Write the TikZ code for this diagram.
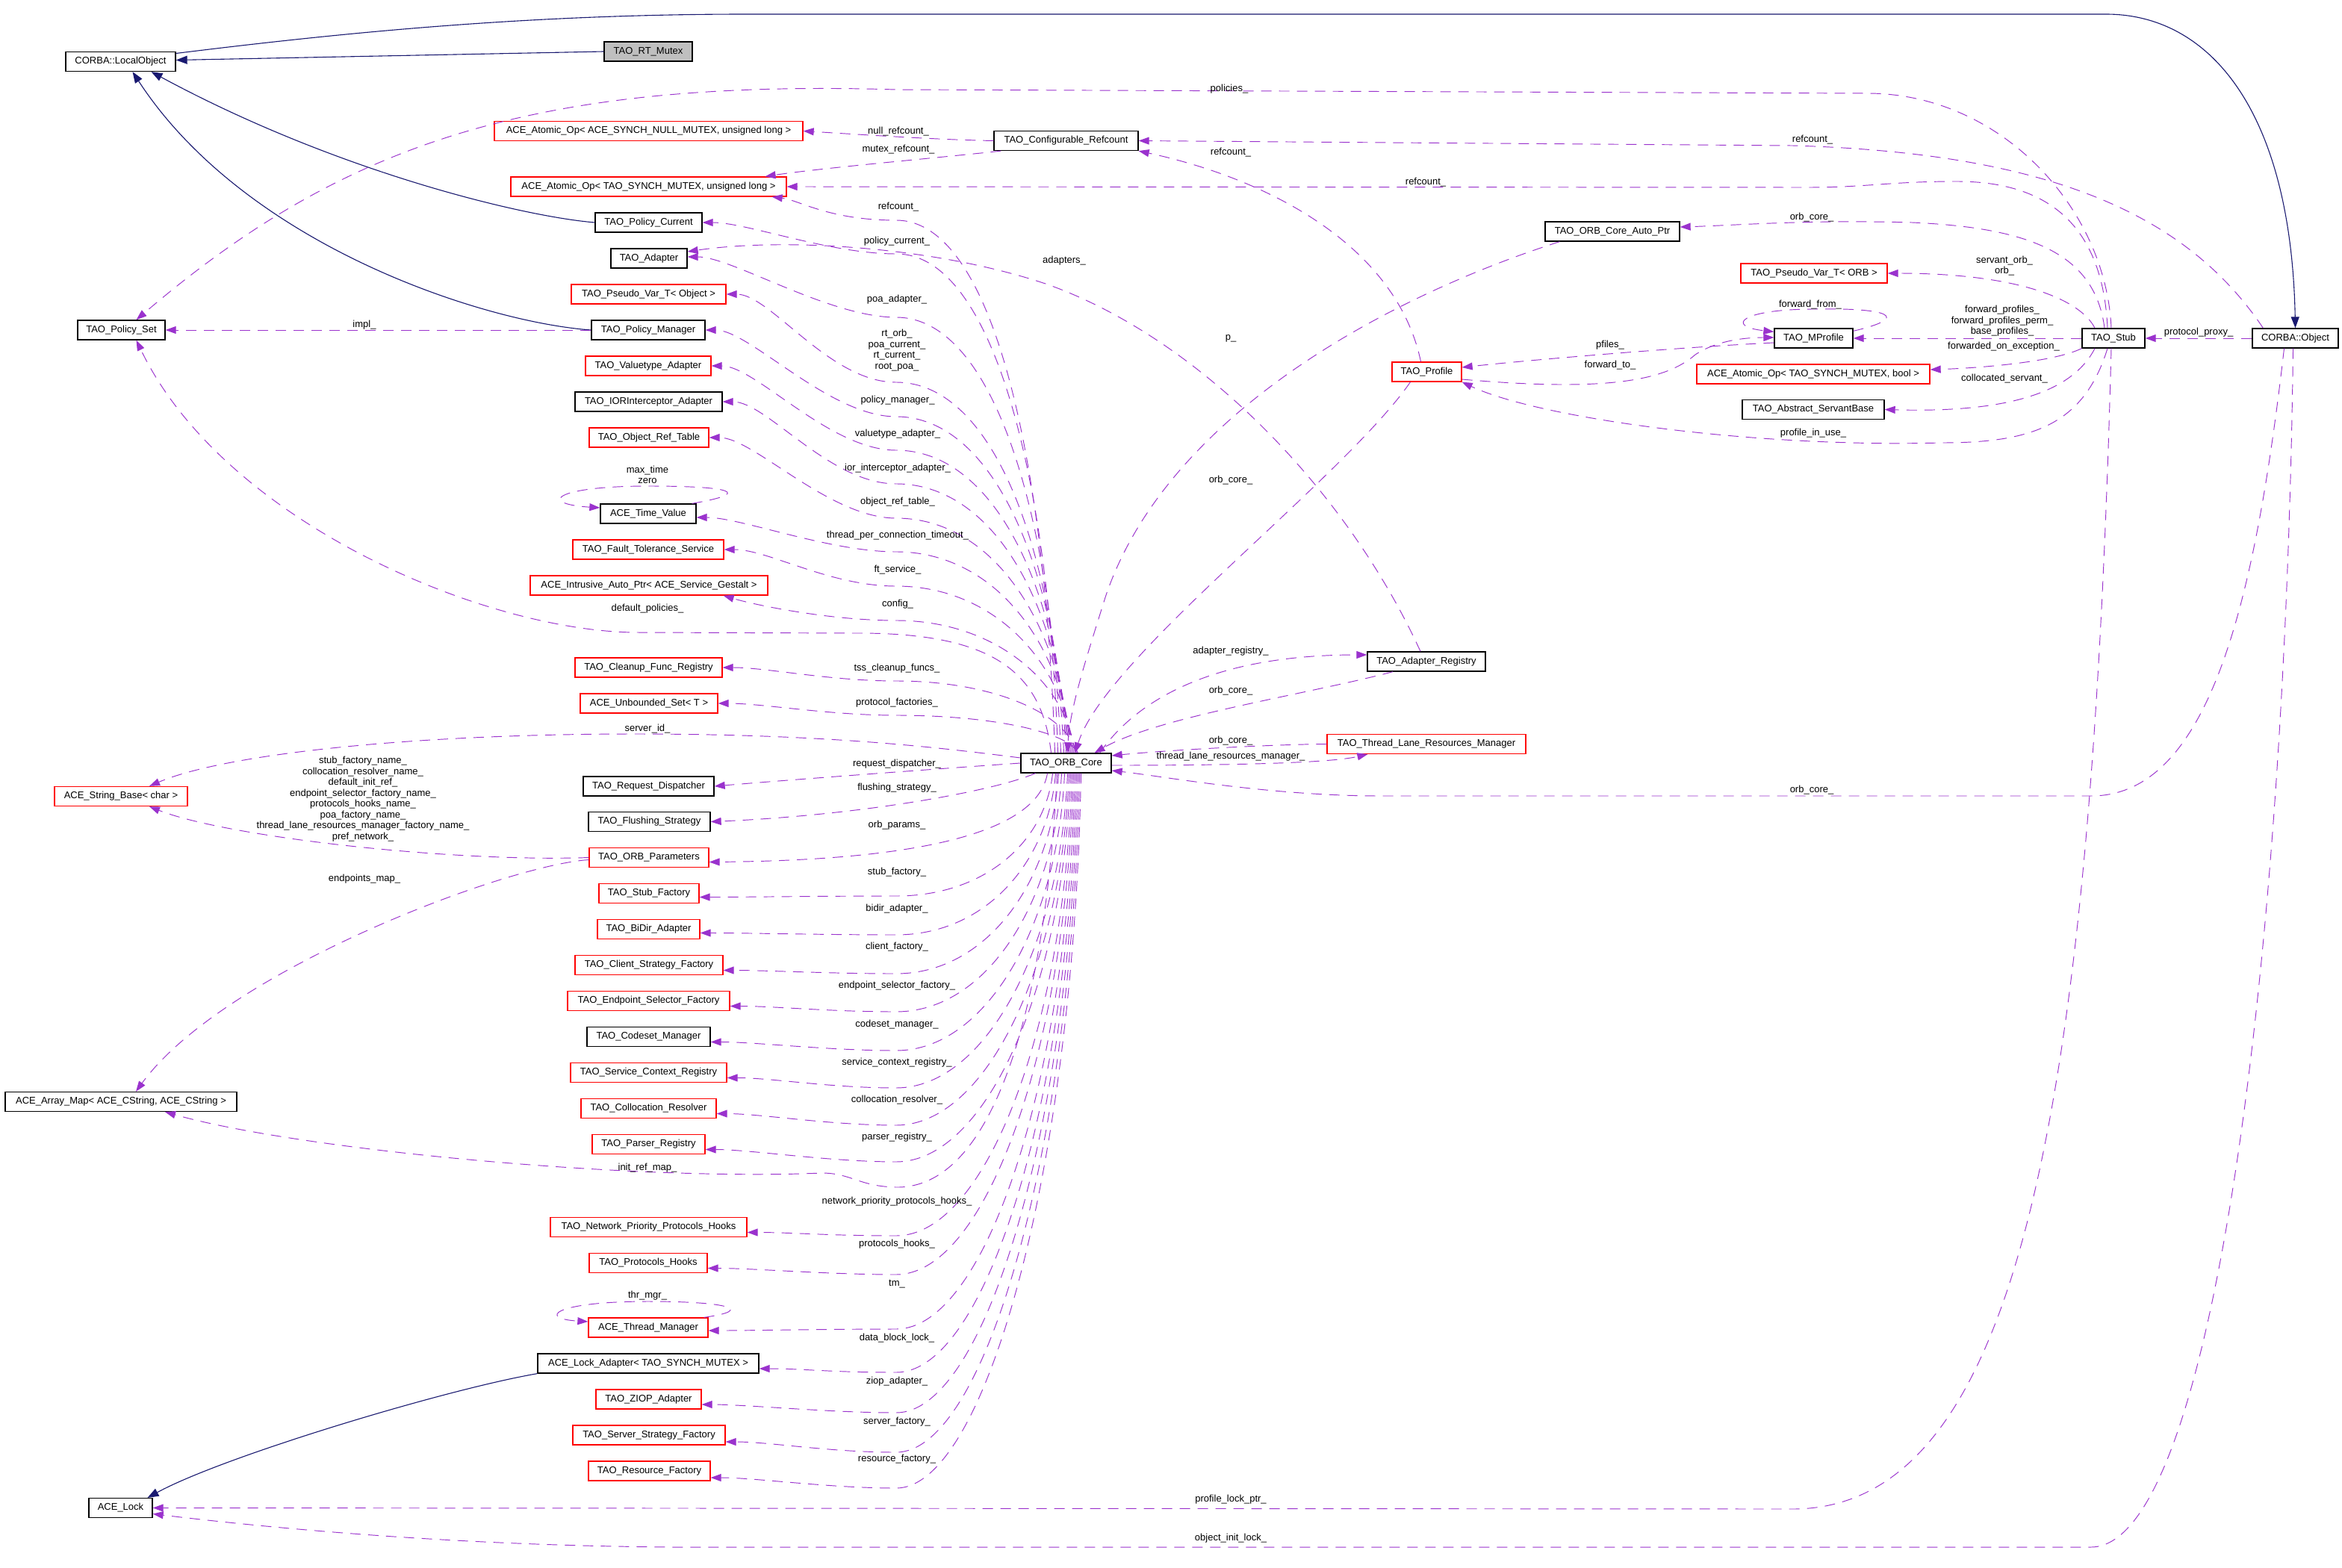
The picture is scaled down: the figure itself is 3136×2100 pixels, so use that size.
\documentclass[tikz,border=0pt]{standalone}
\usepackage{fontspec}
\setmainfont{Liberation Sans}
\usetikzlibrary{arrows.meta,calc}
\definecolor{depcol}{RGB}{154,50,205}
\definecolor{inhcol}{RGB}{25,25,112}
\definecolor{grey75}{RGB}{191,191,191}
\begin{document}
\begin{tikzpicture}[x=1pt,y=-1pt,
  cls/.style={draw=black,line width=1.3pt,fill=white,minimum height=26pt,inner xsep=3pt,inner ysep=0pt,font=\fontsize{13}{14.5}\selectfont},
  rcls/.style={cls,draw=red},
  gcls/.style={cls,fill=grey75},
  lbl/.style={font=\fontsize{13}{14.5}\selectfont,inner sep=0pt,align=center},
  dep/.style={draw=depcol,line width=0.95pt,dash pattern=on 14pt off 10pt,-{Triangle[length=14pt,width=10pt]}},
  inh/.style={draw=inhcol,line width=1.1pt,-{Triangle[length=15pt,width=11pt]}}]
\path[use as bounding box] (0,0) rectangle (3136,2100);
\fill[white] (0,0) rectangle (3136,2100);

% ---------------- nodes ----------------
\node[cls,minimum width=147pt] (lobj) at (161.5,82.5) {CORBA::LocalObject};
\node[gcls,minimum width=118pt] (rtm) at (868,69) {TAO\_RT\_Mutex};
\node[rcls,minimum width=413pt] (aonull) at (868.5,175.5) {ACE\_Atomic\_Op< ACE\_SYNCH\_NULL\_MUTEX, unsigned long >};
\node[rcls,minimum width=369pt] (aoul) at (868.5,250) {ACE\_Atomic\_Op< TAO\_SYNCH\_MUTEX, unsigned long >};
\node[cls,minimum width=143pt] (pcur) at (868.5,298) {TAO\_Policy\_Current};
\node[cls,minimum width=102pt] (adapter) at (869,346) {TAO\_Adapter};
\node[rcls,minimum width=207pt] (pvobj) at (868.5,394) {TAO\_Pseudo\_Var\_T< Object >};
\node[cls,minimum width=117pt] (pset) at (162.5,442) {TAO\_Policy\_Set};
\node[cls,minimum width=152pt] (pman) at (868,442) {TAO\_Policy\_Manager};
\node[rcls,minimum width=168pt] (vta) at (868,490) {TAO\_Valuetype\_Adapter};
\node[cls,minimum width=197pt] (iora) at (868.5,538) {TAO\_IORInterceptor\_Adapter};
\node[rcls,minimum width=160pt] (ort) at (869,586) {TAO\_Object\_Ref\_Table};
\node[cls,minimum width=128pt] (tv) at (868,688) {ACE\_Time\_Value};
\node[rcls,minimum width=202pt] (fts) at (868,736) {TAO\_Fault\_Tolerance\_Service};
\node[rcls,minimum width=318pt] (iap) at (869,784) {ACE\_Intrusive\_Auto\_Ptr< ACE\_Service\_Gestalt >};
\node[rcls,minimum width=197pt] (cfr) at (868.5,894) {TAO\_Cleanup\_Func\_Registry};
\node[rcls,minimum width=184pt] (us) at (869,942) {ACE\_Unbounded\_Set< T >};
\node[rcls,minimum width=178pt] (sb) at (162,1066.5) {ACE\_String\_Base< char >};
\node[cls,minimum width=175pt] (rd) at (868.5,1053) {TAO\_Request\_Dispatcher};
\node[cls,minimum width=163pt] (fs) at (869.5,1100.5) {TAO\_Flushing\_Strategy};
\node[rcls,minimum width=160pt] (op) at (869,1148.5) {TAO\_ORB\_Parameters};
\node[rcls,minimum width=134pt] (sf) at (869,1196.5) {TAO\_Stub\_Factory};
\node[rcls,minimum width=137pt] (bidir) at (868.5,1244.5) {TAO\_BiDir\_Adapter};
\node[rcls,minimum width=198pt] (csf) at (869,1292.5) {TAO\_Client\_Strategy\_Factory};
\node[rcls,minimum width=217pt] (esf) at (868.5,1340.5) {TAO\_Endpoint\_Selector\_Factory};
\node[cls,minimum width=165pt] (cm) at (868.5,1388.5) {TAO\_Codeset\_Manager};
\node[rcls,minimum width=209pt] (scr) at (868.5,1436.5) {TAO\_Service\_Context\_Registry};
\node[rcls,minimum width=181pt] (cr) at (868.5,1484.5) {TAO\_Collocation\_Resolver};
\node[rcls,minimum width=151pt] (pr) at (868.5,1532.5) {TAO\_Parser\_Registry};
\node[cls,minimum width=310pt] (am) at (162,1475.5) {ACE\_Array\_Map< ACE\_CString, ACE\_CString >};
\node[rcls,minimum width=263pt] (nph) at (868.5,1643.5) {TAO\_Network\_Priority\_Protocols\_Hooks};
\node[rcls,minimum width=158pt] (ph) at (868,1691.5) {TAO\_Protocols\_Hooks};
\node[rcls,minimum width=160pt] (tm) at (868,1778) {ACE\_Thread\_Manager};
\node[cls,minimum width=296pt] (la) at (868,1826) {ACE\_Lock\_Adapter< TAO\_SYNCH\_MUTEX >};
\node[rcls,minimum width=141pt] (ziop) at (868.5,1874) {TAO\_ZIOP\_Adapter};
\node[rcls,minimum width=204pt] (ssf) at (869,1922) {TAO\_Server\_Strategy\_Factory};
\node[rcls,minimum width=163pt] (rf) at (869.5,1970) {TAO\_Resource\_Factory};
\node[cls,minimum width=85pt] (lock) at (161.5,2019.5) {ACE\_Lock};
\node[cls,minimum width=193pt] (crc) at (1427.5,188.5) {TAO\_Configurable\_Refcount};
\node[cls,minimum width=180pt] (oap) at (2159,310) {TAO\_ORB\_Core\_Auto\_Ptr};
\node[rcls,minimum width=196pt] (pvorb) at (2429,366) {TAO\_Pseudo\_Var\_T< ORB >};
\node[cls,minimum width=105pt] (mp) at (2428.5,453) {TAO\_MProfile};
\node[cls,minimum width=84pt] (stub) at (2830,453) {TAO\_Stub};
\node[cls,minimum width=115pt] (obj) at (3073.5,453) {CORBA::Object};
\node[rcls,minimum width=312pt] (aobool) at (2428,501) {ACE\_Atomic\_Op< TAO\_SYNCH\_MUTEX, bool >};
\node[cls,minimum width=190pt] (asb) at (2428,548.5) {TAO\_Abstract\_ServantBase};
\node[rcls,minimum width=93pt] (prof) at (1910.5,498) {TAO\_Profile};
\node[cls,minimum width=121pt] (orb) at (1427.5,1022) {TAO\_ORB\_Core};
\node[cls,minimum width=158pt] (areg) at (1910,886) {TAO\_Adapter\_Registry};
\node[rcls,minimum width=266pt] (tlrm) at (1910,996.5) {TAO\_Thread\_Lane\_Resources\_Manager};

% ---------------- inheritance ----------------
\draw[inh] (rtm.west) -- ($(lobj.east)+(0,-2)$);
\draw[inh] ($(lobj.east)+(0,-11)$) .. controls (450,45) and (700,19) .. (1000,19) -- (2820,19) .. controls (2960,19) and (3068,150) .. (obj.north);
\draw[inh] (pcur.west) .. controls (700,290) and (450,230) .. ($(lobj.south)+(41,0)$);
\draw[inh] (pman.west) .. controls (650,432) and (330,330) .. ($(lobj.south)+(16,0)$);
\draw[inh] (la.south west) .. controls (600,1860) and (300,1950) .. ($(lock.north)+(36,0)$);

% ---------------- usage: refcount cluster ----------------
\draw[dep] (crc.west) .. controls (1250,187) and (1150,180) .. (aonull.east);
\draw[dep] ($(crc.south west)+(10,0)$) .. controls (1250,212) and (1100,225) .. ($(aoul.north east)+(-29,0)$);
\draw[dep] ($(obj.north west)+(15,0)$) .. controls (2930,290) and (2750,205) .. (2400,195) -- (crc.east);
\draw[dep] ($(stub.north)+(-8,0)$) .. controls (2815,290) and (2730,243) .. (2620,243) .. controls (2530,243) and (2500,251) .. (2420,251) -- (aoul.east);
\draw[dep] ($(stub.north)+(-3,0)$) .. controls (2820,280) and (2680,125) .. (2500,125) -- (1200,120) .. controls (700,105) and (450,200) .. ($(pset.north)+(20,0)$);
\draw[dep] ($(prof.north)+(-8,0)$) .. controls (1870,330) and (1700,240) .. (crc.south east);

% ---------------- TAO_Stub cluster ----------------
\draw[dep] ($(stub.north)+(-12,0)$) .. controls (2805,340) and (2720,305) .. (2560,298) .. controls (2420,294) and (2320,302) .. ($(oap.east)+(0,-6)$);
\draw[dep] ($(stub.north)+(-25,0)$) .. controls (2785,400) and (2700,366) .. (pvorb.east);
\draw[dep] (stub.west) -- (mp.east);
\draw[dep] (obj.west) -- (stub.east);
\draw[dep] (stub.south west) .. controls (2750,485) and (2650,493) .. ($(aobool.east)+(0,-6)$);
\draw[dep] ($(stub.south)+(-25,0)$) .. controls (2775,525) and (2690,553) .. (asb.east);
\draw[dep] ($(stub.south)+(-8,0)$) .. controls (2790,570) and (2720,593) .. (2600,593) .. controls (2350,600) and (2060,560) .. (prof.south east);
\draw[dep] ($(mp.north east)+(0,4)$) .. controls (2560,425) and (2530,412) .. (2430,414) .. controls (2330,414) and (2310,437) .. ($(mp.north west)+(0,5)$);
\draw[dep] ($(prof.east)+(0,10)$) .. controls (2150,525) and (2230,510) .. (2270,475) .. controls (2300,455) and (2340,452) .. ($(mp.west)+(0,-1)$);
\draw[dep] ($(mp.west)+(0,6)$) .. controls (2250,465) and (2050,482) .. ($(prof.east)+(0,-6)$);
\draw[dep] ($(stub.south)+(-3,0)$) .. controls (2800,1500) and (2700,2021) .. (2400,2021) -- (lock.east);
\draw[dep] ($(obj.south)+(-3,0)$) .. controls (3060,1300) and (2960,2072) .. (2800,2072) -- (900,2072) .. controls (600,2070) and (350,2045) .. ($(lock.east)+(0,8)$);
\draw[dep] ($(obj.south)+(-15,0)$) .. controls (3020,800) and (2960,1066) .. (2800,1066) -- (1850,1066) .. controls (1700,1066) and (1560,1040) .. ($(orb.east)+(0,10)$);

% ---------------- ORB core neighbours ----------------
\draw[dep] ($(prof.south)+(-22,0)$) .. controls (1800,640) and (1480,880) .. ($(orb.north)+(12,0)$);
\draw[dep] ($(oap.south west)+(20,0)$) .. controls (1850,400) and (1560,560) .. (1480,800) .. controls (1455,880) and (1432,950) .. ($(orb.north)+(2,0)$);
\draw[dep] ($(areg.north)+(-8,0)$) .. controls (1800,650) and (1600,450) .. (1400,380) .. controls (1250,330) and (1050,318) .. ($(adapter.east)+(0,-9)$);
\draw[dep] ($(orb.north)+(45,0)$) .. controls (1520,940) and (1620,877) .. ($(areg.west)+(0,-9)$);
\draw[dep] ($(areg.south)+(-45,0)$) .. controls (1750,930) and (1550,960) .. ($(orb.north)+(38,0)$);
\draw[dep] (tlrm.west) .. controls (1700,997) and (1560,1005) .. ($(orb.east)+(0,-10)$);
\draw[dep] ($(orb.east)+(0,3)$) .. controls (1650,1025) and (1780,1022) .. ($(tlrm.south west)+(55,0)$);

% ---------------- left column misc ----------------
\draw[dep] (pman.west) -- (pset.east);
\draw[dep] (op.west) .. controls (600,1155) and (300,1120) .. ($(sb.south)+(38,0)$);
\draw[dep] ($(op.west)+(0,3)$) .. controls (680,1158) and (300,1300) .. ($(am.north)+(20,0)$);
\draw[dep] ($(tv.north east)+(-6,0)$) .. controls (1010,660) and (980,651) .. (868,651) .. controls (740,651) and (720,675) .. ($(tv.west)+(0,-8)$);
\draw[dep] ($(tm.north east)+(-6,0)$) .. controls (1010,1755) and (980,1743) .. (868,1743) .. controls (740,1743) and (720,1766) .. ($(tm.west)+(0,-8)$);

% ---------------- ORB core fan (upper) ----------------
\draw[dep] ($(orb.north)+(-15,0)$) .. controls (1400,616) and (1330,295) .. (1200,295) .. controls (1110,295) and (1070,268) .. ($(aoul.south east)+(-20,0)$);
\draw[dep] ($(orb.north)+(-11,0)$) .. controls (1405,641) and (1330,340) .. (1200,340) .. controls (1110,340) and (1000,298) .. (pcur.east);
\draw[dep] ($(orb.north)+(-7,0)$) .. controls (1408,688) and (1330,425) .. (1200,425) .. controls (1110,425) and (980,344) .. ($(adapter.east)+(0,-2)$);
\draw[dep] ($(orb.north)+(-3,0)$) .. controls (1412,736) and (1330,512) .. (1200,512) .. controls (1110,512) and (1032,394) .. (pvobj.east);
\draw[dep] ($(orb.north)+(0,0)$) .. controls (1415,761) and (1330,558) .. (1200,558) .. controls (1110,558) and (1004,442) .. (pman.east);
\draw[dep] ($(orb.north)+(2,0)$) .. controls (1417,786) and (1330,603) .. (1200,603) .. controls (1110,603) and (1012,490) .. (vta.east);
\draw[dep] ($(orb.north)+(4,0)$) .. controls (1419,810) and (1330,648) .. (1200,648) .. controls (1110,648) and (1027,538) .. (iora.east);
\draw[dep] ($(orb.north)+(6,0)$) .. controls (1421,836) and (1330,694) .. (1200,694) .. controls (1110,694) and (1009,586) .. (ort.east);
\draw[dep] ($(orb.north)+(8,0)$) .. controls (1423,860) and (1330,739) .. (1200,739) .. controls (1110,739) and (992,693) .. ($(tv.east)+(0,5)$);
\draw[dep] ($(orb.north)+(10,0)$) .. controls (1425,886) and (1330,785) .. (1200,785) .. controls (1110,785) and (1029,736) .. (fts.east);
\draw[dep] ($(orb.north)+(12,0)$) .. controls (1427,911) and (1330,831) .. (1200,831) .. controls (1110,831) and (1010,810) .. ($(iap.south east)+(-60,0)$);
\draw[dep] ($(orb.north)+(-20,0)$) .. controls (1395,900) and (1330,848) .. (1150,848) -- (850,847) .. controls (650,845) and (300,700) .. ($(pset.south)+(20,0)$);
\draw[dep] ($(orb.north)+(14,0)$) .. controls (1429,956) and (1330,912) .. (1200,912) .. controls (1110,912) and (1027,894) .. (cfr.east);
\draw[dep] ($(orb.north)+(16,0)$) .. controls (1431,981) and (1330,958) .. (1200,958) .. controls (1110,958) and (1021,942) .. (us.east);
\draw[dep] ($(orb.west)+(0,-7)$) .. controls (1250,1000) and (1100,983) .. (850,983) .. controls (550,983) and (300,1010) .. ($(sb.north)+(38,0)$);

% ---------------- ORB core fan (lower) ----------------
\draw[dep] (orb.west) .. controls (1250,1030) and (1050,1045) .. (rd.east);
\draw[dep] ($(orb.south west)+(20,0)$) .. controls (1330,1060) and (1150,1092) .. (fs.east);
\draw[dep] ($(orb.south)+(-25,0)$) .. controls (1390,1110) and (1250,1152) .. ($(op.east)+(0,6)$);
\draw[dep] ($(orb.south)+(-18,0)$) .. controls (1400,1126) and (1320,1200) .. (1200,1200) .. controls (1110,1200) and (996,1201.5) .. ($(sf.east)+(0,5)$);
\draw[dep] ($(orb.south)+(-14,0)$) .. controls (1404,1154) and (1320,1252) .. (1200,1252) .. controls (1110,1252) and (997,1249.5) .. ($(bidir.east)+(0,5)$);
\draw[dep] ($(orb.south)+(-10,0)$) .. controls (1408,1183) and (1320,1304) .. (1200,1304) .. controls (1110,1304) and (1028,1299.5) .. ($(csf.east)+(0,7)$);
\draw[dep] ($(orb.south)+(-6,0)$) .. controls (1412,1211) and (1320,1355) .. (1200,1355) .. controls (1110,1355) and (1037,1347.5) .. ($(esf.east)+(0,7)$);
\draw[dep] ($(orb.south)+(-2,0)$) .. controls (1416,1240) and (1320,1407) .. (1200,1407) .. controls (1110,1407) and (1011,1395.5) .. ($(cm.east)+(0,7)$);
\draw[dep] ($(orb.south)+(2,0)$) .. controls (1420,1267) and (1320,1457) .. (1200,1457) .. controls (1110,1457) and (1033,1443.5) .. ($(scr.east)+(0,7)$);
\draw[dep] ($(orb.south)+(4,0)$) .. controls (1422,1295) and (1320,1507) .. (1200,1507) .. controls (1110,1507) and (1019,1491.5) .. ($(cr.east)+(0,7)$);
\draw[dep] ($(orb.south)+(6,0)$) .. controls (1424,1322) and (1320,1556) .. (1200,1556) .. controls (1110,1556) and (1004,1539.5) .. ($(pr.east)+(0,7)$);
\draw[dep] ($(orb.south)+(-12,0)$) .. controls (1400,1350) and (1330,1592) .. (1200,1590) .. controls (1150,1589) and (1140,1571) .. (1100,1571) .. controls (850,1582) and (400,1540) .. ($(am.south)+(59,0)$);
\draw[dep] ($(orb.south)+(8,0)$) .. controls (1426,1376) and (1320,1655) .. (1200,1655) .. controls (1110,1655) and (1060,1650.5) .. ($(nph.east)+(0,7)$);
\draw[dep] ($(orb.south)+(10,0)$) .. controls (1428,1405) and (1320,1707) .. (1200,1707) .. controls (1110,1707) and (1007,1698.5) .. ($(ph.east)+(0,7)$);
\draw[dep] ($(orb.south)+(12,0)$) .. controls (1430,1445) and (1320,1780) .. (1200,1780) .. controls (1110,1780) and (1008,1782) .. ($(tm.east)+(0,4)$);
\draw[dep] ($(orb.south)+(14,0)$) .. controls (1432,1477) and (1320,1838) .. (1200,1838) .. controls (1110,1838) and (1076,1833) .. ($(la.east)+(0,7)$);
\draw[dep] ($(orb.south)+(16,0)$) .. controls (1434,1506) and (1320,1892) .. (1200,1892) .. controls (1110,1892) and (999,1881) .. ($(ziop.east)+(0,7)$);
\draw[dep] ($(orb.south)+(18,0)$) .. controls (1436,1535) and (1320,1945) .. (1200,1945) .. controls (1110,1945) and (1031,1931) .. ($(ssf.east)+(0,9)$);
\draw[dep] ($(orb.south)+(20,0)$) .. controls (1438,1562) and (1320,1993) .. (1200,1993) .. controls (1110,1993) and (1011,1979) .. ($(rf.east)+(0,9)$);

% ---------------- labels ----------------
\node[lbl] (t01) at (1203,176) {null\_refcount\_};
\node[lbl] (t02) at (1203,200) {mutex\_refcount\_};
\node[lbl] (t03) at (1203,277) {refcount\_};
\node[lbl] (t04) at (1646,119) {policies\_};
\node[lbl] (t05) at (1648,204) {refcount\_};
\node[lbl] (t06) at (1909,244) {refcount\_};
\node[lbl] (t07) at (2427,187) {refcount\_};
\node[lbl] (t08) at (1201,323) {policy\_current\_};
\node[lbl] (t09) at (1425,349) {adapters\_};
\node[lbl] (t10) at (1201,401) {poa\_adapter\_};
\node[lbl] (t11) at (2426,291) {orb\_core\_};
\node[lbl] (t12) at (2684,356) {servant\_orb\_\\orb\_};
\node[lbl] (t13) at (2424,408) {forward\_from\_};
\node[lbl] (t14) at (2681,430) {forward\_profiles\_\\forward\_profiles\_perm\_\\base\_profiles\_};
\node[lbl] (t15) at (2944,445) {protocol\_proxy\_};
\node[lbl] (t16) at (2683,464) {forwarded\_on\_exception\_};
\node[lbl] (t17) at (2684,507) {collocated\_servant\_};
\node[lbl] (t18) at (2428,580) {profile\_in\_use\_};
\node[lbl] (t19) at (2156,462) {pfiles\_};
\node[lbl] (t20) at (2156,489) {forward\_to\_};
\node[lbl] (t21) at (1648,453) {p\_};
\node[lbl] (t22) at (1648,643) {orb\_core\_};
\node[lbl] (t23) at (1201,469) {rt\_orb\_\\poa\_current\_\\rt\_current\_\\root\_poa\_};
\node[lbl] (t24) at (488,435) {impl\_};
\node[lbl] (t25) at (1202,536) {policy\_manager\_};
\node[lbl] (t26) at (1202,581) {valuetype\_adapter\_};
\node[lbl] (t27) at (1202,627) {ior\_interceptor\_adapter\_};
\node[lbl] (t28) at (1202,672) {object\_ref\_table\_};
\node[lbl] (t29) at (867,636) {max\_time\\zero};
\node[lbl] (t30) at (1202,717) {thread\_per\_connection\_timeout\_};
\node[lbl] (t31) at (1202,763) {ft\_service\_};
\node[lbl] (t32) at (1202,809) {config\_};
\node[lbl] (t33) at (867,815) {default\_policies\_};
\node[lbl] (t34) at (1201,895) {tss\_cleanup\_funcs\_};
\node[lbl] (t35) at (1201,941) {protocol\_factories\_};
\node[lbl] (t36) at (867,976) {server\_id\_};
\node[lbl] (t37) at (1648,872) {adapter\_registry\_};
\node[lbl] (t38) at (1648,925) {orb\_core\_};
\node[lbl] (t39) at (1648,992) {orb\_core\_};
\node[lbl] (t40) at (1648,1013) {thread\_lane\_resources\_manager\_};
\node[lbl] (t41) at (1201,1023) {request\_dispatcher\_};
\node[lbl] (t42) at (1201,1055) {flushing\_strategy\_};
\node[lbl] (t43) at (1201,1105) {orb\_params\_};
\node[lbl] (t44) at (1201,1168) {stub\_factory\_};
\node[lbl] (t45) at (1201,1217) {bidir\_adapter\_};
\node[lbl] (t46) at (1201,1268) {client\_factory\_};
\node[lbl] (t47) at (1201,1320) {endpoint\_selector\_factory\_};
\node[lbl] (t48) at (1201,1372) {codeset\_manager\_};
\node[lbl] (t49) at (1201,1423) {service\_context\_registry\_};
\node[lbl] (t50) at (1201,1473) {collocation\_resolver\_};
\node[lbl] (t51) at (1201,1523) {parser\_registry\_};
\node[lbl] (t52) at (867,1564) {init\_ref\_map\_};
\node[lbl] (t53) at (1201,1609) {network\_priority\_protocols\_hooks\_};
\node[lbl] (t54) at (1201,1666) {protocols\_hooks\_};
\node[lbl] (t55) at (867,1735) {thr\_mgr\_};
\node[lbl] (t56) at (1201,1720) {tm\_};
\node[lbl] (t57) at (1201,1792) {data\_block\_lock\_};
\node[lbl] (t58) at (1201,1850) {ziop\_adapter\_};
\node[lbl] (t59) at (1201,1904) {server\_factory\_};
\node[lbl] (t60) at (1201,1954) {resource\_factory\_};
\node[lbl] (t61) at (1648,2008) {profile\_lock\_ptr\_};
\node[lbl] (t62) at (1648,2060) {object\_init\_lock\_};
\node[lbl] (t63) at (2426,1058) {orb\_core\_};
\node[lbl] (t64) at (486,1070) {stub\_factory\_name\_\\collocation\_resolver\_name\_\\default\_init\_ref\_\\endpoint\_selector\_factory\_name\_\\protocols\_hooks\_name\_\\poa\_factory\_name\_\\thread\_lane\_resources\_manager\_factory\_name\_\\pref\_network\_};
\node[lbl] (t65) at (488,1177) {endpoints\_map\_};
\end{tikzpicture}
\end{document}
